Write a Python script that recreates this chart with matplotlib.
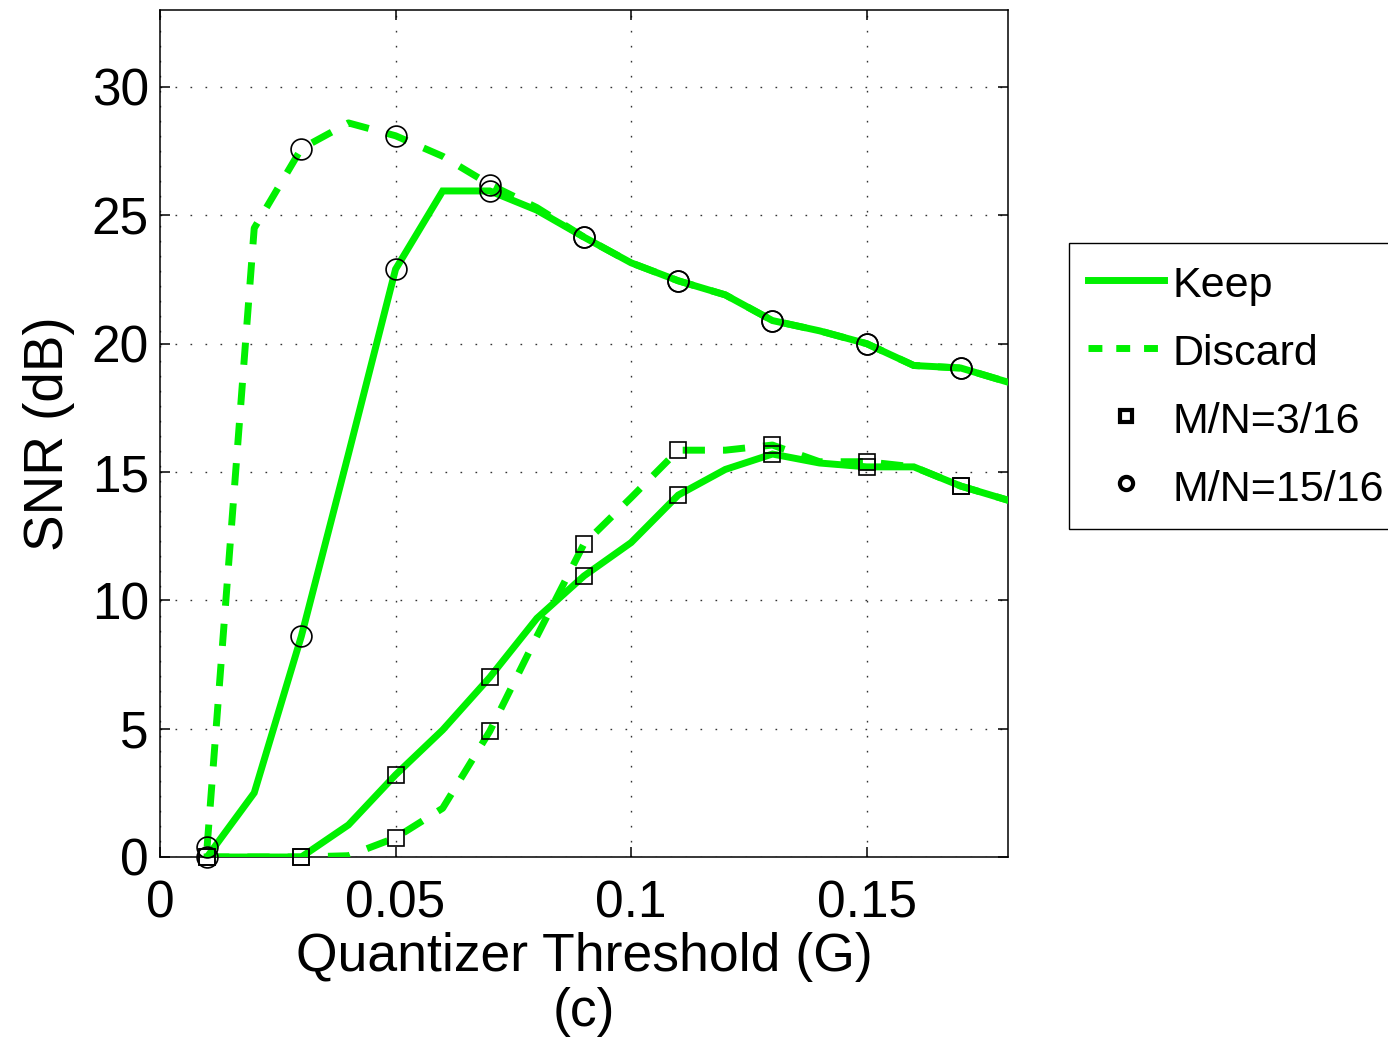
import matplotlib
matplotlib.use("Agg")
import matplotlib.pyplot as plt
from matplotlib.lines import Line2D

plt.rcParams['font.family'] = ['Liberation Sans', 'DejaVu Sans']

# ---- data ----
threshold = [0.01, 0.02, 0.03, 0.04, 0.05, 0.06, 0.07, 0.08, 0.09,
             0.10, 0.11, 0.12, 0.13, 0.14, 0.15, 0.16, 0.17, 0.18]

keep_15_16 = [0.0, 2.5, 8.6, 15.7, 22.9, 25.95, 25.95, 25.2, 24.15,
              23.15, 22.45, 21.9, 20.9, 20.5, 20.0, 19.15, 19.05, 18.5]
discard_15_16 = [0.4, 24.5, 27.6, 28.6, 28.1, 27.3, 26.2, 25.3, 24.15,
                 23.15, 22.45, 21.9, 20.9, 20.5, 20.0, 19.15, 19.05, 18.5]
keep_3_16 = [0.0, 0.0, 0.0, 1.25, 3.2, 4.95, 7.0, 9.3, 10.95,
             12.25, 14.1, 15.1, 15.7, 15.35, 15.2, 15.2, 14.45, 13.9]
discard_3_16 = [0.0, 0.0, 0.0, 0.05, 0.75, 1.9, 4.9, 8.6, 12.2,
                14.0, 15.85, 15.85, 16.05, 15.4, 15.4, 15.2, 14.45, 13.9]

x_ticks = [0, 0.05, 0.1, 0.15]
x_tick_labels = ["0", "0.05", "0.1", "0.15"]
y_ticks = [0, 5, 10, 15, 20, 25, 30]

legend_labels = ["Keep", "Discard", "M/N=3/16", "M/N=15/16"]

# ---- figure ----
fig = plt.figure(figsize=(13.88, 10.48), dpi=100)
ax = fig.add_axes([160/1388, 1 - 857/1048, (1008-160)/1388, (857-10)/1048])

green = '#00f000'
lw = 5.0
dash = (0, (3.2, 2.6))

ax.plot(threshold, keep_15_16, color=green, lw=lw, solid_joinstyle='miter', zorder=3)
ax.plot(threshold, discard_15_16, color=green, lw=lw, linestyle=dash, zorder=3)
ax.plot(threshold, keep_3_16, color=green, lw=lw, solid_joinstyle='miter', zorder=3)
ax.plot(threshold, discard_3_16, color=green, lw=lw, linestyle=dash, zorder=3)

# markers at every other point
mx = threshold[::2]
for ys in (keep_15_16, discard_15_16):
    ax.plot(mx, ys[::2], linestyle='none', marker='o', ms=15, mfc='none',
            mec='black', mew=1.2, zorder=4, clip_on=False)
for ys in (keep_3_16, discard_3_16):
    ax.plot(mx, ys[::2], linestyle='none', marker='s', ms=12, mfc='none',
            mec='black', mew=1.2, zorder=4, clip_on=False)

ax.set_xlim(0, 0.18)
ax.set_ylim(0, 33)
ax.set_xticks(x_ticks)
ax.set_xticklabels(x_tick_labels)
ax.set_yticks(y_ticks)

ax.tick_params(axis='both', direction='in', length=7, width=1.1,
               top=True, right=True, labelsize=37, colors='black')
ax.tick_params(axis='x', pad=16)
ax.tick_params(axis='y', pad=8)

for s in ax.spines.values():
    s.set_linewidth(1.1)
    s.set_color('black')

ax.grid(True, color='#333333', linestyle=(0, (1.2, 9.6)), linewidth=1.0, zorder=1)
ax.set_axisbelow(True)

ax.set_xlabel("Quantizer Threshold (G)\n(c)", fontsize=38.5, labelpad=3,
              linespacing=1.12)
ax.set_ylabel("SNR (dB)", fontsize=39.5, labelpad=12)

handles = [
    Line2D([], [], color=green, lw=lw),
    Line2D([], [], color=green, lw=lw, linestyle=(0, (2.0, 2.0))),
    Line2D([], [], linestyle='none', marker='s', ms=8.5, mfc='none', mec='black', mew=3),
    Line2D([], [], linestyle='none', marker='o', ms=9.5, mfc='none', mec='black', mew=3),
]
leg = fig.legend(handles, legend_labels, loc='upper left',
                 bbox_to_anchor=(1069/1388, 1 - 243/1048),
                 fontsize=31, frameon=True, fancybox=False, framealpha=1,
                 edgecolor='black', handlelength=1.75, handletextpad=0.2,
                 handleheight=1.06, borderpad=0.45, labelspacing=0.56,
                 borderaxespad=0)
leg.get_frame().set_linewidth(1.0)

fig.savefig("out.png", dpi=100)
